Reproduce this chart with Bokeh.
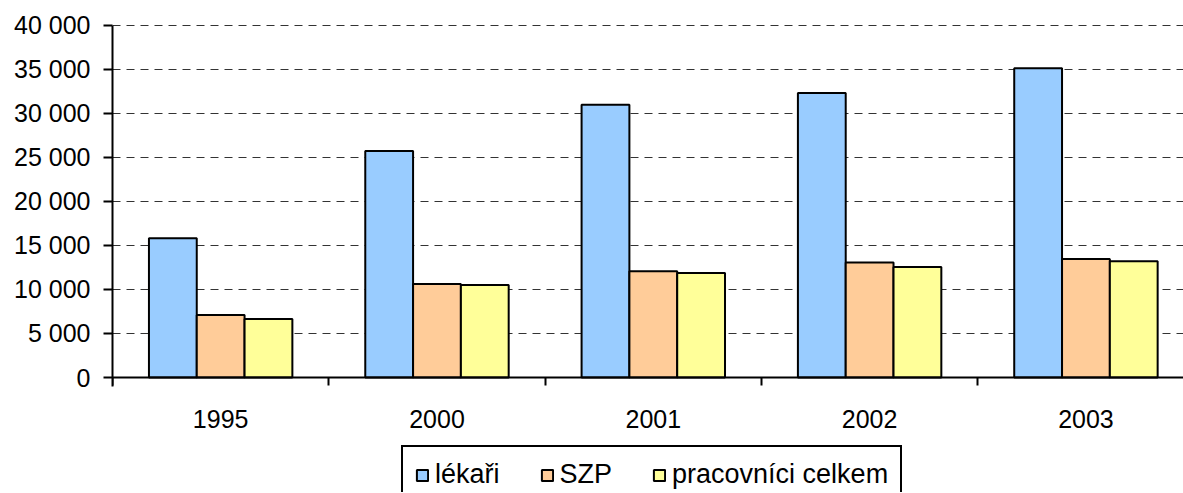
from bokeh.plotting import figure
from bokeh.models import ColumnDataSource, FixedTicker, Legend, LegendItem, Range1d
from bokeh.transform import dodge
from bokeh.embed import file_html
from bokeh.resources import INLINE

years = ["1995", "2000", "2001", "2002", "2003"]
lekari = [15800, 25700, 30950, 32300, 35100]
szp = [7100, 10600, 12050, 13050, 13450]
celkem = [6650, 10500, 11850, 12550, 13200]
y_ticks = [0, 5000, 10000, 15000, 20000, 25000, 30000, 35000, 40000]

series_names = ["lékaři", "SZP", "pracovníci celkem"]
colors = ["#99CCFF", "#FFCC99", "#FFFF99"]

x = [i + 0.5 for i in range(len(years))]
src = ColumnDataSource(dict(x=x, lekari=lekari, szp=szp, celkem=celkem))

FONT = "Liberation Sans"

p = figure(frame_width=1071, frame_height=468,
           x_range=Range1d(0, 4.951), y_range=Range1d(-13050, 40060),
           output_backend="svg", toolbar_location=None,
           min_border_left=112, min_border_right=0, min_border_top=24,
           min_border_bottom=0)
p.outline_line_color = None
p.background_fill_color = "white"
p.border_fill_color = "white"

bw = 0.221
fields = ["lekari", "szp", "celkem"]
offsets = [-bw, 0.0, bw]
renderers = []
for f, off, c in zip(fields, offsets, colors):
    r = p.vbar(x=dodge("x", off, range=p.x_range), top=f, width=bw, bottom=0,
               source=src, fill_color=c, line_color="black", line_width=2)
    renderers.append(r)

# y axis
p.yaxis.ticker = FixedTicker(ticks=y_ticks)
p.yaxis.bounds = (-1000, 40000)
p.yaxis.major_label_overrides = {t: f"{t:,}".replace(",", " ") for t in y_ticks}
p.yaxis.major_label_text_font = FONT
p.yaxis.major_label_text_font_size = "25px"
p.yaxis.major_label_text_color = "black"
p.yaxis.axis_line_color = "black"
p.yaxis.axis_line_width = 2
p.yaxis.major_tick_line_color = "black"
p.yaxis.major_tick_line_width = 2
p.yaxis.major_tick_out = 9
p.yaxis.major_tick_in = 0
p.yaxis.minor_tick_line_color = None
p.yaxis.major_label_standoff = 13

# x axis, drawn at the value 0
p.xaxis.fixed_location = 0
p.xaxis.ticker = FixedTicker(ticks=x, minor_ticks=list(range(len(years) + 1)))
p.xaxis.major_label_overrides = {xi: y for xi, y in zip(x, years)}
p.xaxis.major_label_text_font = FONT
p.xaxis.major_label_text_font_size = "25px"
p.xaxis.major_label_text_color = "black"
p.xaxis.axis_line_color = "black"
p.xaxis.axis_line_width = 2
p.xaxis.major_tick_line_color = None
p.xaxis.minor_tick_line_color = "black"
p.xaxis.minor_tick_line_width = 2
p.xaxis.minor_tick_out = 8
p.xaxis.minor_tick_in = 0
p.xaxis.major_label_standoff = 24

# grid
p.xgrid.grid_line_color = None
p.ygrid.grid_line_color = "#333333"
p.ygrid.grid_line_width = 1
p.ygrid.grid_line_dash = "8 6"

legend = Legend(items=[LegendItem(label=n, renderers=[r]) for n, r in zip(series_names, renderers)],
                orientation="horizontal", location=(289, -12))
legend.label_text_font = FONT
legend.label_text_font_size = "27px"
legend.label_text_color = "black"
legend.glyph_width = 14
legend.glyph_height = 14
legend.label_standoff = 6
legend.spacing = 40
legend.padding = 12
legend.margin = 0
legend.border_line_color = "black"
legend.border_line_width = 2
legend.border_line_alpha = 1
legend.background_fill_color = "white"
legend.background_fill_alpha = 1
p.add_layout(legend, "center")

open("out.html", "w").write(file_html(p, INLINE))
